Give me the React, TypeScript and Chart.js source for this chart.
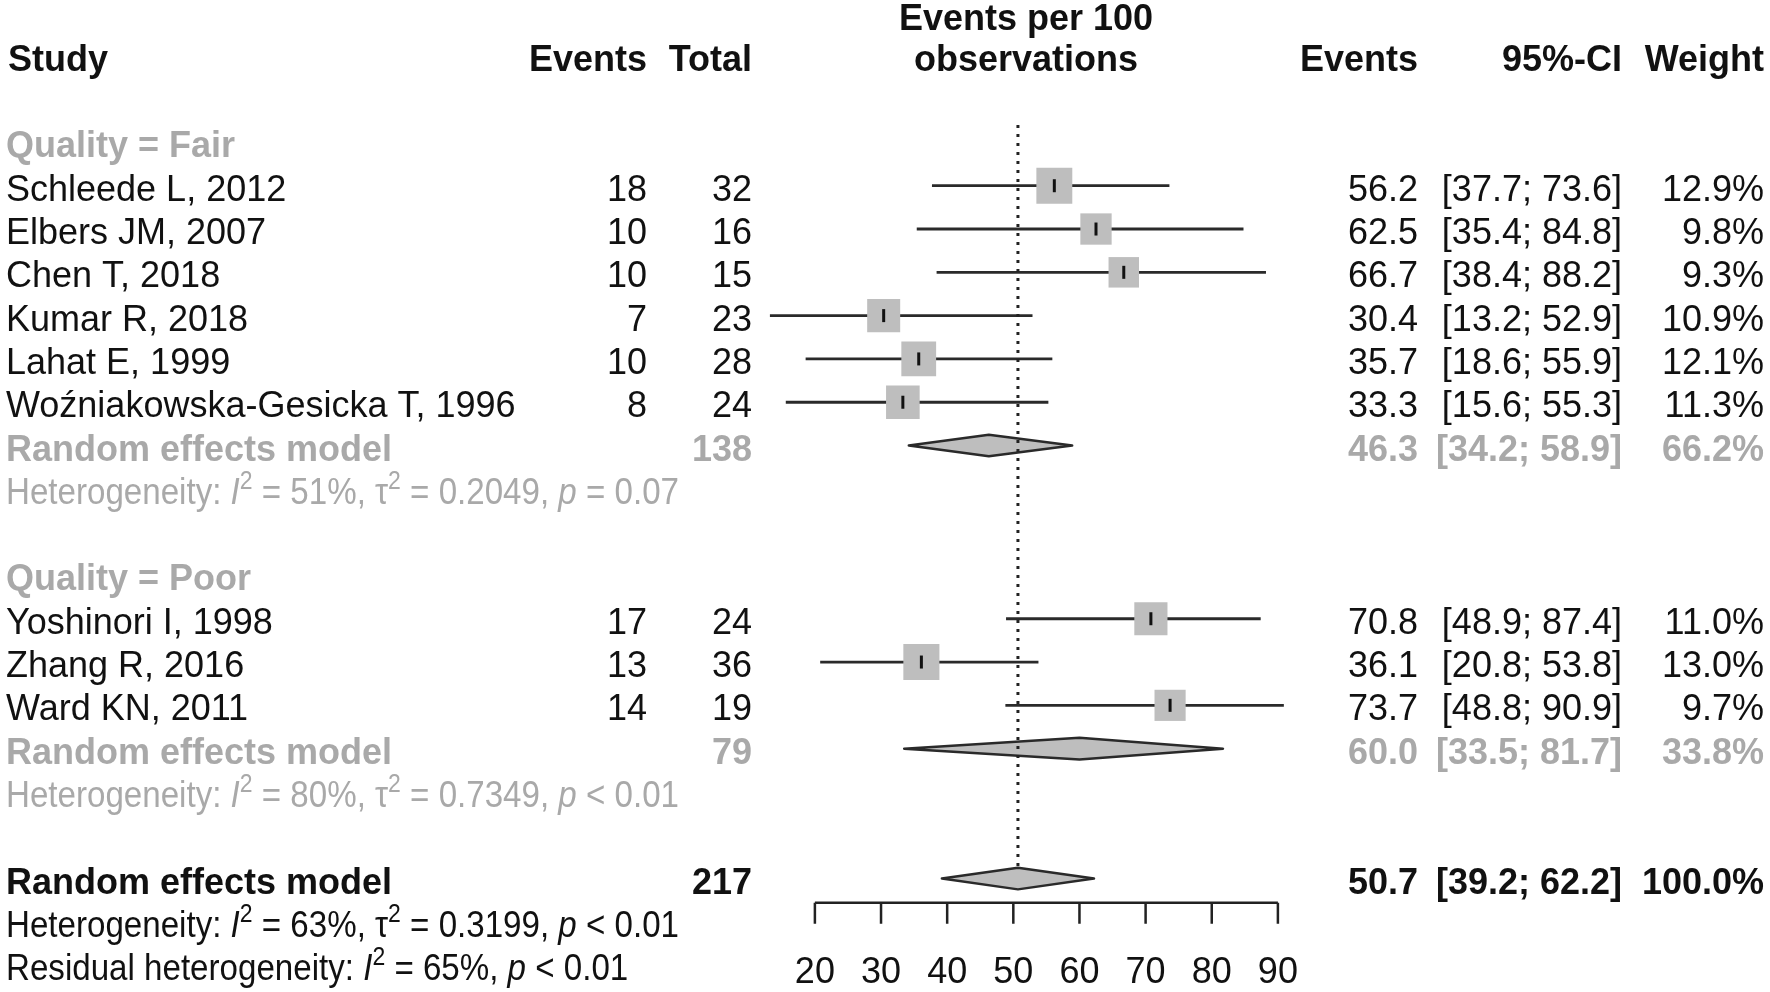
import React, { useEffect, useRef } from "react";
import { Chart, registerables } from "chart.js";

Chart.register(...registerables);

// ---------- data ----------
const studyLabels = [
  "Schleede L, 2012",
  "Elbers JM, 2007",
  "Chen T, 2018",
  "Kumar R, 2018",
  "Lahat E, 1999",
  "Woźniakowska-Gesicka T, 1996",
  "Yoshinori I, 1998",
  "Zhang R, 2016",
  "Ward KN, 2011",
];
const studyEvents = [18, 10, 10, 7, 10, 8, 17, 13, 14];
const studyTotals = [32, 16, 15, 23, 28, 24, 24, 36, 19];
const studyEst = [56.2, 62.5, 66.7, 30.4, 35.7, 33.3, 70.8, 36.1, 73.7];
const studyLow = [37.7, 35.4, 38.4, 13.2, 18.6, 15.6, 48.9, 20.8, 48.8];
const studyUp = [73.6, 84.8, 88.2, 52.9, 55.9, 55.3, 87.4, 53.8, 90.9];
const studyWeight = [12.9, 9.8, 9.3, 10.9, 12.1, 11.3, 11.0, 13.0, 9.7];
const studyRows = [3, 4, 5, 6, 7, 8, 13, 14, 15];

const groupLabels = ["Quality = Fair", "Quality = Poor"];
const groupRows = [2, 12];

const modelLabels = ["Random effects model", "Random effects model", "Random effects model"];
const modelTotals = [138, 79, 217];
const modelEst = [46.3, 60.0, 50.7];
const modelLow = [34.2, 33.5, 39.2];
const modelUp = [58.9, 81.7, 62.2];
const modelWeight = [66.2, 33.8, 100.0];
const modelRows = [9, 16, 19];
const modelIsSubgroup = [true, true, false];

const hetI2 = ["51%", "80%", "63%"];
const hetTau2 = ["0.2049", "0.7349", "0.3199"];
const hetP = ["= 0.07", "< 0.01", "< 0.01"];
const hetRows = [10, 17, 20];
const residualI2 = "65%";
const residualP = "< 0.01";
const residualRow = 21;

const axisTicks = [20, 30, 40, 50, 60, 70, 80, 90];
const refValue = 50.7;

// ---------- layout / style ----------
const W = 1770;
const H = 992;
const FONT = '"Liberation Sans", Arial, sans-serif';
const FS = 36;
const HET_SQUEEZE = 0.92;
const TXT_DY = 15;
const BLACK = "#111111";
const GRAY = "#a9a9a9";
const BOX = "#bebebe";
const X_MIN = -103.2;
const X_MAX = 164.4;
const Y_MIN = -1.289;
const Y_MAX = 21.62;
const REF_TOP = 1.6;
const REF_BOTTOM = 18.74;
const AXIS_ROW = 19.56;
const TICK_ROW = 21.07;
const HEADER_ROW = 0;
const HEADER_ROW2 = -0.95;
const DIAMOND_HALF = 0.25;

const COL_STUDY = 6;
const COL_EVENTS = 647;
const COL_TOTAL = 752;
const COL_PLOT_HDR = 1026;
const COL_EST = 1418;
const COL_CI = 1622;
const COL_WEIGHT = 1764;

type Seg = { t: string; it?: boolean; sup?: boolean };

function txt(
  ctx: CanvasRenderingContext2D,
  s: string,
  x: number,
  y: number,
  align: CanvasTextAlign,
  bold: boolean,
  color: string
) {
  ctx.font = `${bold ? "bold " : ""}${FS}px ${FONT}`;
  ctx.fillStyle = color;
  ctx.textAlign = align;
  ctx.textBaseline = "alphabetic";
  ctx.fillText(s, x, y);
}

function rich(ctx: CanvasRenderingContext2D, segs: Seg[], x: number, y: number, color: string) {
  ctx.save();
  ctx.translate(x, y);
  ctx.scale(HET_SQUEEZE, 1);
  let cx = 0;
  ctx.textAlign = "left";
  ctx.textBaseline = "alphabetic";
  ctx.fillStyle = color;
  for (const s of segs) {
    const fs = s.sup ? Math.round(FS * 0.7) : FS;
    ctx.font = `${s.it ? "italic " : ""}${fs}px ${FONT}`;
    ctx.fillText(s.t, cx, s.sup ? -FS * 0.42 : 0);
    cx += ctx.measureText(s.t).width;
  }
  ctx.restore();
}

const fmt1 = (v: number) => v.toFixed(1);
const ciStr = (l: number, u: number) => `[${fmt1(l)}; ${fmt1(u)}]`;

const diamondPlugin = {
  id: "diamonds",
  beforeDatasetsDraw(chart: any) {
    const ctx = chart.ctx as CanvasRenderingContext2D;
    const xs = chart.scales.x;
    const ys = chart.scales.y;
    ctx.save();
    modelRows.forEach((row, i) => {
      const yc = ys.getPixelForValue(row);
      const h = Math.abs(ys.getPixelForValue(row + DIAMOND_HALF) - yc);
      const xl = xs.getPixelForValue(modelLow[i]);
      const xe = xs.getPixelForValue(modelEst[i]);
      const xu = xs.getPixelForValue(modelUp[i]);
      ctx.beginPath();
      ctx.moveTo(xl, yc);
      ctx.lineTo(xe, yc - h);
      ctx.lineTo(xu, yc);
      ctx.lineTo(xe, yc + h);
      ctx.closePath();
      ctx.fillStyle = BOX;
      ctx.fill();
      ctx.lineJoin = "round";
      ctx.lineWidth = 2.5;
      ctx.strokeStyle = "#2a2a2a";
      ctx.stroke();
    });
    ctx.restore();
  },
};

const textPlugin = {
  id: "forestText",
  afterDraw(chart: any) {
    const ctx = chart.ctx as CanvasRenderingContext2D;
    const xs = chart.scales.x;
    const ys = chart.scales.y;
    const rowY = (r: number) => ys.getPixelForValue(r) + TXT_DY;
    ctx.save();

    // headers
    txt(ctx, "Study", COL_STUDY + 2, rowY(HEADER_ROW), "left", true, BLACK);
    txt(ctx, "Events", COL_EVENTS, rowY(HEADER_ROW), "right", true, BLACK);
    txt(ctx, "Total", COL_TOTAL, rowY(HEADER_ROW), "right", true, BLACK);
    txt(ctx, "Events per 100", COL_PLOT_HDR, rowY(HEADER_ROW2), "center", true, BLACK);
    txt(ctx, "observations", COL_PLOT_HDR, rowY(HEADER_ROW), "center", true, BLACK);
    txt(ctx, "Events", COL_EST, rowY(HEADER_ROW), "right", true, BLACK);
    txt(ctx, "95%-CI", COL_CI, rowY(HEADER_ROW), "right", true, BLACK);
    txt(ctx, "Weight", COL_WEIGHT, rowY(HEADER_ROW), "right", true, BLACK);

    // subgroup labels
    groupLabels.forEach((g, i) => txt(ctx, g, COL_STUDY, rowY(groupRows[i]), "left", true, GRAY));

    // studies
    studyLabels.forEach((s, i) => {
      const y = rowY(studyRows[i]);
      txt(ctx, s, COL_STUDY, y, "left", false, BLACK);
      txt(ctx, String(studyEvents[i]), COL_EVENTS, y, "right", false, BLACK);
      txt(ctx, String(studyTotals[i]), COL_TOTAL, y, "right", false, BLACK);
      txt(ctx, fmt1(studyEst[i]), COL_EST, y, "right", false, BLACK);
      txt(ctx, ciStr(studyLow[i], studyUp[i]), COL_CI, y, "right", false, BLACK);
      txt(ctx, `${fmt1(studyWeight[i])}%`, COL_WEIGHT, y, "right", false, BLACK);
    });

    // models
    modelLabels.forEach((m, i) => {
      const y = rowY(modelRows[i]);
      const c = modelIsSubgroup[i] ? GRAY : BLACK;
      txt(ctx, m, COL_STUDY, y, "left", true, c);
      txt(ctx, String(modelTotals[i]), COL_TOTAL, y, "right", true, c);
      txt(ctx, fmt1(modelEst[i]), COL_EST, y, "right", true, c);
      txt(ctx, ciStr(modelLow[i], modelUp[i]), COL_CI, y, "right", true, c);
      txt(ctx, `${fmt1(modelWeight[i])}%`, COL_WEIGHT, y, "right", true, c);
    });

    // heterogeneity
    hetRows.forEach((r, i) => {
      const c = modelIsSubgroup[i] ? GRAY : BLACK;
      rich(
        ctx,
        [
          { t: "Heterogeneity: " },
          { t: "I", it: true },
          { t: "2", sup: true },
          { t: ` = ${hetI2[i]}, ` },
          { t: "τ" },
          { t: "2", sup: true },
          { t: ` = ${hetTau2[i]}, ` },
          { t: "p", it: true },
          { t: ` ${hetP[i]}` },
        ],
        COL_STUDY,
        rowY(r),
        c
      );
    });
    rich(
      ctx,
      [
        { t: "Residual heterogeneity: " },
        { t: "I", it: true },
        { t: "2", sup: true },
        { t: ` = ${residualI2}, ` },
        { t: "p", it: true },
        { t: ` ${residualP}` },
      ],
      COL_STUDY,
      rowY(residualRow),
      BLACK
    );

    // axis
    const ay = ys.getPixelForValue(AXIS_ROW);
    const x0 = xs.getPixelForValue(axisTicks[0]);
    const x1 = xs.getPixelForValue(axisTicks[axisTicks.length - 1]);
    ctx.strokeStyle = "#222";
    ctx.lineWidth = 2.5;
    ctx.beginPath();
    ctx.moveTo(x0, ay);
    ctx.lineTo(x1, ay);
    axisTicks.forEach((t) => {
      const px = xs.getPixelForValue(t);
      ctx.moveTo(px, ay);
      ctx.lineTo(px, ay + 21);
    });
    ctx.stroke();
    axisTicks.forEach((t) => {
      txt(ctx, String(t), xs.getPixelForValue(t), rowY(TICK_ROW), "center", false, BLACK);
    });

    ctx.restore();
  },
};

export default function App() {
  const ref = useRef<HTMLCanvasElement>(null);

  useEffect(() => {
    document.body.style.margin = "0";
    const ciSets = studyLabels.map((_, i) => ({
      data: [
        { x: studyLow[i], y: studyRows[i] },
        { x: studyUp[i], y: studyRows[i] },
      ],
      showLine: true,
      borderColor: "#2a2a2a",
      borderWidth: 2.8,
      pointRadius: 0,
      order: 3,
    }));
    const points = studyEst.map((e, i) => ({ x: e, y: studyRows[i] }));
    const chart = new Chart(ref.current as HTMLCanvasElement, {
      type: "scatter",
      data: {
        datasets: [
          ...ciSets,
          {
            data: points,
            pointStyle: "rect",
            pointRadius: studyWeight.map((w) => (10 * Math.sqrt(w)) / Math.SQRT2),
            backgroundColor: BOX,
            borderWidth: 0,
            order: 2,
          },
          {
            data: points,
            pointStyle: "line",
            rotation: 90,
            pointRadius: 6.5,
            borderColor: BLACK,
            borderWidth: 3,
            order: 1,
          },
          {
            data: [
              { x: refValue, y: REF_TOP },
              { x: refValue, y: REF_BOTTOM },
            ],
            showLine: true,
            borderColor: "#222",
            borderWidth: 3,
            borderDash: [3, 6],
            pointRadius: 0,
            order: 0,
          },
        ] as any,
      },
      options: {
        animation: false,
        responsive: false,
        events: [],
        layout: { padding: 0, autoPadding: false },
        scales: {
          x: { type: "linear", min: X_MIN, max: X_MAX, display: false },
          y: { type: "linear", min: Y_MIN, max: Y_MAX, reverse: true, display: false },
        },
        plugins: { legend: { display: false }, tooltip: { enabled: false } },
      } as any,
      plugins: [diamondPlugin, textPlugin],
    });
    return () => chart.destroy();
  }, []);

  return (
    <div style={{ width: W, height: H, background: "#fff" }}>
      <canvas ref={ref} width={W} height={H} style={{ width: W, height: H, display: "block" }} />
    </div>
  );
}
